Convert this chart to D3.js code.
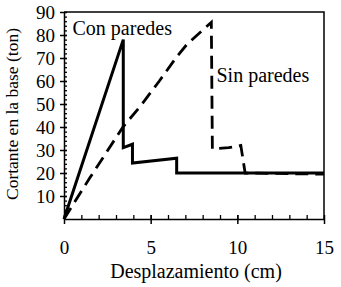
<!DOCTYPE html>
<html>
<head>
  <meta charset="utf-8">
  <title>Cortante vs desplazamiento</title>
  <script src="https://cdn.jsdelivr.net/npm/d3@7"></script>
  <style>
    body { margin: 0; background: #fff; }
    svg text { font-family: "Liberation Serif", Tinos, "Times New Roman", Times, "DejaVu Serif", serif !important; fill: #000; }
  </style>
</head>
<body>
<script>
  // data
  var conX = [0, 3.42, 3.42, 3.95, 3.95, 6.5, 6.5, 15];
  var conY = [0, 78, 31, 32.5, 24.3, 26.4, 20, 20];
  var sinX = [0, 1.5, 3.4, 4.4, 5.5, 6.5, 7.1, 8.5, 8.56, 9.5, 10.2, 10.45, 15];
  var sinY = [0, 18, 40, 49, 60, 70.5, 76, 85.5, 30.5, 31, 32, 20, 19.5];
  var xTicks = [0, 5, 10, 15];
  var yTicks = [10, 20, 30, 40, 50, 60, 70, 80, 90];

  var width = 341, height = 287;
  var margin = { top: 12, right: 17, bottom: 68, left: 64 };
  var serif = '"Liberation Serif", Tinos, "Times New Roman", Times, "DejaVu Serif", serif';

  var svg = d3.select("body").append("svg").attr("width", width).attr("height", height);

  var x = d3.scaleLinear().domain([0, 15]).range([margin.left, width - margin.right]);
  var y = d3.scaleLinear().domain([0, 90]).range([height - margin.bottom, margin.top]);

  // minor ticks (inside)
  svg.append("g")
    .attr("transform", "translate(0," + y(0) + ")")
    .call(d3.axisBottom(x).tickValues(d3.range(1, 15)).tickSize(-4).tickFormat(""))
    .call(function(g) { g.select(".domain").remove(); })
    .selectAll("line").attr("stroke-width", 1.3);

  svg.append("g")
    .attr("transform", "translate(" + x(0) + ",0)")
    .call(d3.axisLeft(y).tickValues(d3.range(2, 90, 2)).tickSize(-3).tickFormat(""))
    .call(function(g) { g.select(".domain").remove(); })
    .selectAll("line").attr("stroke-width", 1.3);

  // major ticks + labels
  var gx = svg.append("g")
    .attr("transform", "translate(0," + y(0) + ")")
    .attr("font-family", serif)
    .call(d3.axisBottom(x).tickValues(xTicks).tickSize(5).tickPadding(17).tickSizeOuter(0));
  gx.attr("font-family", serif);
  gx.selectAll("text").attr("font-size", "19px");
  gx.select(".domain").attr("stroke-width", 1.5);
  gx.selectAll(".tick line").attr("stroke-width", 1.5).attr("y1", -4);

  var gy = svg.append("g")
    .attr("transform", "translate(" + x(0) + ",0)")
    .call(d3.axisLeft(y).tickValues(yTicks).tickSize(4).tickPadding(5).tickSizeOuter(0));
  gy.attr("font-family", serif);
  gy.selectAll("text").attr("font-size", "19px");
  gy.select(".domain").attr("stroke-width", 1.5);
  gy.selectAll(".tick line").attr("stroke-width", 1.5).attr("x1", 3);

  // box top and right
  svg.append("path")
    .attr("fill", "none")
    .attr("stroke", "#000")
    .attr("stroke-width", 1.5)
    .attr("d", "M" + x(0) + "," + y(90) + "H" + x(15) + "V" + y(0));

  // lines
  var line = d3.line()
    .x(function(d) { return x(d[0]); })
    .y(function(d) { return y(d[1]); });

  svg.append("path")
    .datum(d3.zip(sinX, sinY))
    .attr("fill", "none")
    .attr("stroke", "#000")
    .attr("stroke-width", 2.8)
    .attr("stroke-dasharray", "13,7")
    .attr("d", line);

  svg.append("path")
    .datum(d3.zip(conX, conY))
    .attr("fill", "none")
    .attr("stroke", "#000")
    .attr("stroke-width", 3)
    .attr("d", line);

  // labels
  var texts = svg.append("g").attr("font-family", serif);
  texts.append("text").attr("x", 72.5).attr("y", 34.5).attr("font-size", "20px").text("Con paredes");
  texts.append("text").attr("x", 216.5).attr("y", 81.5).attr("font-size", "20px").text("Sin paredes");

  texts.append("text")
    .attr("x", (x(0) + x(15)) / 2 + 2)
    .attr("y", 278)
    .attr("text-anchor", "middle")
    .attr("font-size", "20px")
    .text("Desplazamiento (cm)");

  texts.append("text")
    .attr("transform", "translate(18,114) rotate(-90)")
    .attr("text-anchor", "middle")
    .attr("font-size", "16px")
    .attr("textLength", 172)
    .attr("lengthAdjust", "spacingAndGlyphs")
    .text("Cortante en la base (ton)");
</script>
</body>
</html>
